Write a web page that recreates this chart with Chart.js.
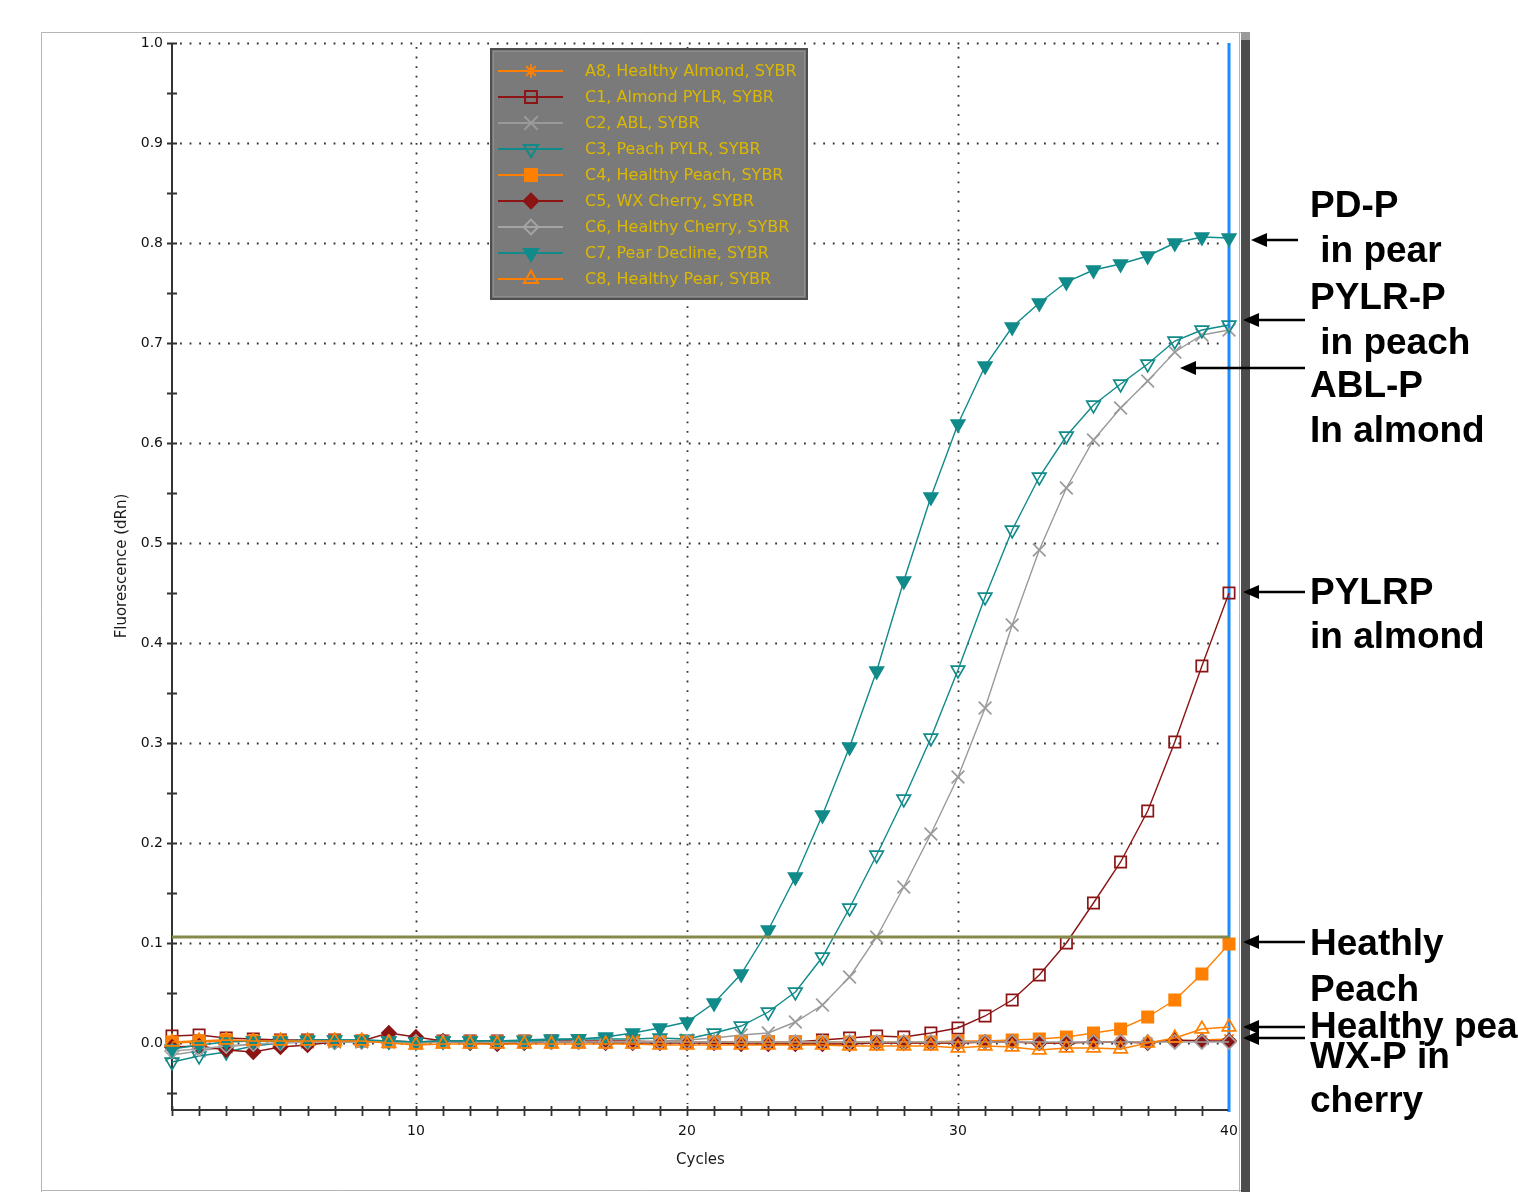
<!DOCTYPE html>
<html>
<head>
<meta charset="utf-8">
<script src="https://cdn.jsdelivr.net/npm/chart.js@4.4.1/dist/chart.umd.min.js"></script>
<style>
html,body{margin:0;padding:0;background:#fff;}
#wrap{width:1518px;height:1192px;position:relative;overflow:hidden;}
canvas{display:block;}
</style>
</head>
<body>
<div id="wrap"><canvas id="c" width="1518" height="1192"></canvas></div>
<script>
// ---------------- DATA ----------------
const cycles = [1,2,3,4,5,6,7,8,9,10,11,12,13,14,15,16,17,18,19,20,21,22,23,24,25,26,27,28,29,30,31,32,33,34,35,36,37,38,39,40];
const yTickValues = [0.0,0.1,0.2,0.3,0.4,0.5,0.6,0.7,0.8,0.9,1.0];
const xTickLabels = [10,20,30,40];
const seriesNames = [
  "A8, Healthy Almond, SYBR",
  "C1, Almond PYLR, SYBR",
  "C2, ABL, SYBR",
  "C3, Peach PYLR, SYBR",
  "C4, Healthy Peach, SYBR",
  "C5, WX Cherry, SYBR",
  "C6, Healthy Cherry, SYBR",
  "C7, Pear Decline, SYBR",
  "C8, Healthy Pear, SYBR"
];
const healthyAlmond = [0.000,0.001,0.002,0.002,0.002,0.002,0.002,0.002,0.001,0.000,0.001,0.001,0.001,0.001,0.001,0.001,0.001,0.001,0.001,0.001,0.001,0.001,0.000,0.000,0.000,0.000,0.000,0.000,0.000,0.000,0.001,0.001,0.000,0.000,0.001,0.001,0.001,0.002,0.003,0.004];
const almondPYLR = [0.007,0.008,0.005,0.004,0.003,0.003,0.003,0.002,0.002,0.001,0.002,0.002,0.002,0.002,0.002,0.002,0.002,0.002,0.001,0.001,0.001,0.001,0.001,0.001,0.003,0.005,0.007,0.006,0.010,0.015,0.027,0.043,0.068,0.100,0.140,0.181,0.232,0.301,0.377,0.450];
const abl = [-0.012,-0.008,-0.004,-0.001,0.000,0.001,0.001,0.001,0.001,0.000,0.001,0.001,0.001,0.001,0.001,0.001,0.001,0.001,0.002,0.003,0.005,0.008,0.010,0.021,0.038,0.066,0.106,0.156,0.209,0.266,0.335,0.418,0.493,0.555,0.603,0.635,0.662,0.691,0.708,0.713];
const peachPYLR = [-0.019,-0.013,-0.009,-0.003,0.000,0.002,0.003,0.003,0.002,0.001,0.002,0.002,0.002,0.003,0.004,0.004,0.004,0.004,0.005,0.004,0.010,0.017,0.031,0.051,0.086,0.135,0.188,0.244,0.305,0.373,0.446,0.513,0.566,0.607,0.638,0.659,0.679,0.702,0.713,0.718];
const healthyPeach = [0.001,0.002,0.003,0.002,0.002,0.002,0.002,0.002,0.001,0.000,0.001,0.001,0.001,0.001,0.001,0.001,0.001,0.001,0.001,0.001,0.001,0.001,0.001,0.001,0.001,0.001,0.001,0.001,0.001,0.002,0.002,0.003,0.004,0.006,0.010,0.014,0.026,0.043,0.069,0.099];
const wxCherry = [-0.004,-0.003,-0.007,-0.009,-0.004,-0.002,0.001,0.002,0.010,0.006,0.002,0.000,-0.001,0.000,0.001,0.001,0.000,0.000,0.000,0.000,0.000,-0.001,-0.001,-0.001,-0.001,-0.001,0.000,0.000,0.000,0.000,0.001,0.001,0.000,0.000,0.001,0.001,0.000,0.003,0.002,0.002];
const healthyCherry = [-0.008,-0.006,-0.003,-0.001,0.000,0.001,0.001,0.001,0.001,0.001,0.001,0.001,0.001,0.001,0.001,0.001,0.001,0.001,0.001,0.001,0.001,0.001,0.001,0.001,0.001,0.001,0.001,0.001,0.001,0.001,0.001,0.001,0.001,0.001,0.001,0.001,0.001,0.001,0.001,0.001];
const pearDecline = [-0.006,-0.002,0.001,0.002,0.002,0.003,0.003,0.003,0.002,0.001,0.002,0.002,0.002,0.002,0.003,0.004,0.006,0.010,0.015,0.021,0.040,0.069,0.113,0.166,0.228,0.296,0.372,0.462,0.546,0.619,0.677,0.716,0.740,0.761,0.773,0.779,0.787,0.800,0.806,0.805];
const healthyPear = [0.001,0.002,0.003,0.002,0.002,0.002,0.002,0.002,0.000,-0.002,-0.001,-0.001,-0.001,-0.001,-0.001,-0.001,-0.001,-0.001,-0.002,-0.002,-0.002,-0.002,-0.002,-0.002,-0.002,-0.003,-0.003,-0.003,-0.003,-0.005,-0.003,-0.004,-0.007,-0.005,-0.005,-0.006,0.000,0.005,0.014,0.016];
const thresholdValue = 0.106;
const cursorCycle = 40;
const axisTitleX = "Cycles";
const axisTitleY = "Fluorescence (dRn)";
const noteLines = ["PD-P"," in pear","PYLR-P"," in peach","ABL-P","In almond","PYLRP","in almond","Heathly","Peach","Healthy pea","WX-P in","cherry"];

// ---------------- STYLE ----------------
const ORANGE = '#ff8000', DARKRED = '#8b1414', GRAY = '#9a9a9a', LGRAY = '#a4a4a4', TEAL = '#118a8a';
const allSeries = [healthyAlmond, almondPYLR, abl, peachPYLR, healthyPeach, wxCherry, healthyCherry, pearDecline, healthyPear];
const seriesStyle = [
  {c:ORANGE,  ps:'star',     r:6.5, rot:0,   fill:false},
  {c:DARKRED, ps:'rect',     r:8,   rot:0,   fill:false},
  {c:GRAY,    ps:'crossRot', r:9,   rot:0,   fill:false},
  {c:TEAL,    ps:'triangle', r:7.8, rot:180, fill:false},
  {c:ORANGE,  ps:'rect',     r:8,   rot:0,   fill:true},
  {c:DARKRED, ps:'rectRot',  r:7,   rot:0,   fill:true},
  {c:LGRAY,   ps:'rectRot',  r:7,   rot:0,   fill:false},
  {c:TEAL,    ps:'triangle', r:7.8, rot:180, fill:true},
  {c:ORANGE,  ps:'triangle', r:7.8, rot:0,   fill:false}
];

const datasets = allSeries.map((vals, i) => {
  const s = seriesStyle[i];
  return {
    label: seriesNames[i],
    data: cycles.map((c, k) => ({x: c, y: vals[k]})),
    borderColor: s.c,
    backgroundColor: s.fill ? s.c : 'rgba(0,0,0,0)',
    borderWidth: 1.4,
    pointStyle: s.ps,
    pointRadius: s.r,
    pointRotation: s.rot,
    pointBorderColor: s.c,
    pointBackgroundColor: s.fill ? s.c : 'rgba(0,0,0,0)',
    pointBorderWidth: 1.7,
    tension: 0,
    clip: false,
    order: allSeries.length - 1 - i
  };
});

function dotted(ctx, x1, y1, x2, y2) {
  ctx.save();
  ctx.strokeStyle = '#333';
  ctx.lineWidth = 1.8;
  ctx.setLineDash([1.8, 7.8]);
  ctx.beginPath(); ctx.moveTo(x1, y1); ctx.lineTo(x2, y2); ctx.stroke();
  ctx.restore();
}

const decorPlugin = {
  id: 'decor',
  beforeDatasetsDraw(chart) {
    const ctx = chart.ctx, a = chart.chartArea, xs = chart.scales.x, ys = chart.scales.y;
    ctx.save();
    // outer frame
    ctx.strokeStyle = '#b4b4b4'; ctx.lineWidth = 1;
    ctx.beginPath();
    ctx.moveTo(41.5, 1192); ctx.lineTo(41.5, 32.5); ctx.lineTo(1241, 32.5);
    ctx.moveTo(41.5, 1190.5); ctx.lineTo(1241, 1190.5);
    ctx.moveTo(1239.5, 33); ctx.lineTo(1239.5, 1192);
    ctx.stroke();
    // dark bar on right
    ctx.fillStyle = '#9a9a9a'; ctx.fillRect(1241, 32, 9, 8);
    ctx.fillStyle = '#4c4c4c'; ctx.fillRect(1241, 40, 9, 1152);
    // horizontal dotted grid
    yTickValues.forEach(v => { const y = Math.round(ys.getPixelForValue(v)) + 0.5; dotted(ctx, a.left + 8, y, a.right - 4, y); });
    // vertical dotted grid
    xTickLabels.forEach(v => { if (v < 40) { const x = Math.round(xs.getPixelForValue(v)) + 0.5; dotted(ctx, x, a.top + 4, x, a.bottom - 6); } });
    // cursor line
    const cx = xs.getPixelForValue(cursorCycle);
    ctx.strokeStyle = '#1a8cff'; ctx.lineWidth = 3;
    ctx.beginPath(); ctx.moveTo(cx, a.top); ctx.lineTo(cx, a.bottom + 2); ctx.stroke();
    // axes
    ctx.strokeStyle = '#333'; ctx.lineWidth = 2;
    ctx.beginPath();
    ctx.moveTo(a.left, a.top); ctx.lineTo(a.left, a.bottom + 1);
    ctx.moveTo(a.left, a.bottom); ctx.lineTo(cx - 1, a.bottom);
    ctx.stroke();
    // y ticks every 0.05
    ctx.lineWidth = 1.8;
    ctx.beginPath();
    for (let k = -1; k <= 20; k++) {
      const y = Math.round(ys.getPixelForValue(k * 0.05)) + 0.5;
      ctx.moveTo(a.left - 5, y); ctx.lineTo(a.left + 5, y);
    }
    // x ticks every cycle
    cycles.forEach(c => {
      const x = Math.round(xs.getPixelForValue(c)) + 0.5;
      if (c < 40) { ctx.moveTo(x, a.bottom - 4); ctx.lineTo(x, a.bottom + 6); }
    });
    ctx.stroke();
    ctx.restore();
  },
  afterDatasetsDraw(chart) {
    const ctx = chart.ctx, a = chart.chartArea, xs = chart.scales.x, ys = chart.scales.y;
    ctx.save();
    // threshold line
    const ty = ys.getPixelForValue(thresholdValue);
    ctx.strokeStyle = '#858a4a'; ctx.lineWidth = 3;
    ctx.beginPath(); ctx.moveTo(a.left, ty); ctx.lineTo(xs.getPixelForValue(cursorCycle), ty); ctx.stroke();

    // legend box
    const lx = 490, ly = 48, lw = 318, lh = 252;
    ctx.fillStyle = '#7a7a7a'; ctx.fillRect(lx, ly, lw, lh);
    ctx.strokeStyle = '#4e4e4e'; ctx.lineWidth = 2; ctx.strokeRect(lx + 1, ly + 1, lw - 2, lh - 2);
    ctx.strokeStyle = '#8e8e8e'; ctx.lineWidth = 1; ctx.strokeRect(lx + 3.5, ly + 3.5, lw - 7, lh - 7);
    const rowY0 = 71, rowH = 26;
    chart.data.datasets.forEach((ds, i) => {
      const y = rowY0 + i * rowH;
      ctx.strokeStyle = ds.borderColor; ctx.lineWidth = 2;
      ctx.beginPath(); ctx.moveTo(498, y); ctx.lineTo(563, y); ctx.stroke();
      ctx.fillStyle = ds.pointBackgroundColor; ctx.strokeStyle = ds.pointBorderColor; ctx.lineWidth = 2;
      const opts = {pointStyle: ds.pointStyle, radius: ds.pointRadius * 1.05, rotation: ds.pointRotation, borderWidth: 2};
      if (Chart.helpers && Chart.helpers.drawPoint) Chart.helpers.drawPoint(ctx, opts, 531, y);
      ctx.fillStyle = '#dcb800'; ctx.font = '16px "DejaVu Sans"'; ctx.textBaseline = 'middle'; ctx.textAlign = 'left';
      ctx.fillText(ds.label, 585, y + 1);
    });

    // axis titles
    ctx.fillStyle = '#1a1a1a'; ctx.font = '15px "DejaVu Sans"'; ctx.textAlign = 'center'; ctx.textBaseline = 'middle';
    ctx.fillText(axisTitleX, (a.left + a.right) / 2 + 0, 1160);
    ctx.save(); ctx.translate(122, 566); ctx.rotate(-Math.PI / 2); ctx.fillText(axisTitleY, 0, 0); ctx.restore();

    // annotations
    const baselines = [217, 262, 309, 354, 397, 442, 604, 648, 955, 1001, 1038, 1068, 1112];
    ctx.fillStyle = '#000'; ctx.font = 'bold 37px "Liberation Sans"'; ctx.textAlign = 'left'; ctx.textBaseline = 'alphabetic';
    noteLines.forEach((t, i) => ctx.fillText(t, 1310, baselines[i]));
    const arrows = [[1251, 240, 1298], [1243, 320, 1305], [1180, 368, 1305], [1243, 592, 1305], [1243, 942, 1305], [1243, 1027, 1305], [1243, 1038, 1305]];
    arrows.forEach(([tx, y, ex]) => {
      ctx.strokeStyle = '#000'; ctx.lineWidth = 2.5;
      ctx.beginPath(); ctx.moveTo(tx + 12, y); ctx.lineTo(ex, y); ctx.stroke();
      ctx.fillStyle = '#000';
      ctx.beginPath(); ctx.moveTo(tx, y); ctx.lineTo(tx + 16, y - 7); ctx.lineTo(tx + 16, y + 7); ctx.closePath(); ctx.fill();
    });
    ctx.restore();
  }
};

new Chart(document.getElementById('c'), {
  type: 'line',
  data: { datasets },
  options: {
    responsive: false,
    animation: false,
    devicePixelRatio: 1,
    layout: { padding: { left: 0, top: 43, right: 289, bottom: 0 } },
    plugins: { legend: { display: false }, tooltip: { enabled: false } },
    scales: {
      x: {
        type: 'linear', min: 1, max: 40,
        grid: { display: false, drawTicks: false },
        border: { display: false },
        afterBuildTicks: s => { s.ticks = xTickLabels.map(v => ({ value: v })); },
        afterFit: s => { s.height = 82; },
        ticks: { padding: 13, color: '#111', autoSkip: false, maxRotation: 0, font: { family: 'DejaVu Sans', size: 14 }, callback: v => String(v) }
      },
      y: {
        type: 'linear', min: -0.067, max: 1.0,
        grid: { display: false, drawTicks: false },
        border: { display: false },
        afterBuildTicks: s => { s.ticks = yTickValues.map(v => ({ value: v })); },
        afterFit: s => { s.width = 172; },
        ticks: { padding: 9, color: '#111', font: { family: 'DejaVu Sans', size: 14 }, callback: v => Number(v).toFixed(1) }
      }
    }
  },
  plugins: [decorPlugin]
});
</script>
</body>
</html>
